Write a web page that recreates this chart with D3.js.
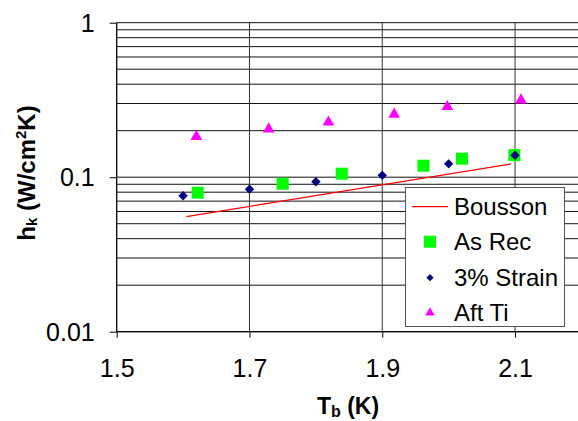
<!DOCTYPE html>
<html>
<head>
<meta charset="utf-8">
<script src="https://cdn.jsdelivr.net/npm/d3@7"></script>
<style>
  body { margin: 0; background: #fff; }
  svg { display: block; }
  text { font-family: "Liberation Sans", Arial, sans-serif; }
</style>
</head>
<body>
<svg id="chart" width="578" height="421"></svg>
<script>
// data
var boussonT = [1.605, 2.094];
var boussonH = [0.0555, 0.122];
var asRecT = [1.622, 1.750, 1.839, 1.962, 2.020, 2.099];
var asRecH = [0.0794, 0.0908, 0.1054, 0.1187, 0.1318, 0.139];
var strainT = [1.6, 1.7, 1.8, 1.9, 2.0, 2.1];
var strainH = [0.0759, 0.0835, 0.0935, 0.1028, 0.122, 0.1386];
var aftT = [1.620, 1.729, 1.819, 1.918, 1.998, 2.109];
var aftH = [0.183, 0.205, 0.227, 0.255, 0.286, 0.316];
var xTicks = [1.5, 1.7, 1.9, 2.1];
var yTicks = [0.01, 0.1, 1];
var legendNames = ["Bousson", "As Rec", "3% Strain", "Aft Ti"];

var plotLeft = 116.7, plotTop = 22.7, plotBottom = 331.7;
var svg = d3.select("#chart");

var x = d3.scaleLinear().domain([1.5, 2.2]).range([plotLeft, plotLeft + 0.7 * 663.9]);
var y = d3.scaleLog().domain([0.01, 1]).range([plotBottom, plotTop]);

// horizontal gridlines (major + minor)
var gridY = [];
for (var d = 0.01; d < 0.5; d *= 10) {
  for (var k = 1; k <= 9; k++) gridY.push(d * k);
}
gridY.push(1);
svg.append("g")
  .selectAll("line")
  .data(gridY)
  .enter()
  .append("line")
  .attr("x1", plotLeft)
  .attr("x2", 578)
  .attr("y1", function(d) { return y(d); })
  .attr("y2", function(d) { return y(d); })
  .attr("stroke", "#111")
  .attr("stroke-width", 1);

// vertical gridlines
svg.append("g")
  .selectAll("line")
  .data(xTicks.slice(1))
  .enter()
  .append("line")
  .attr("x1", function(d) { return x(d); })
  .attr("x2", function(d) { return x(d); })
  .attr("y1", plotTop)
  .attr("y2", plotBottom)
  .attr("stroke", "#333")
  .attr("stroke-width", 1);

// axes
var xAxis = d3.axisBottom(x).tickValues(xTicks).tickSize(6).tickFormat(d3.format(".1f"));
var gx = svg.append("g").attr("transform", "translate(0," + plotBottom + ")").call(xAxis);
gx.select(".domain").attr("d", "M" + plotLeft + ",0H578").attr("stroke", "#000").attr("stroke-width", 1.3);
gx.selectAll(".tick line").attr("stroke", "#000");
gx.selectAll(".tick text")
  .attr("y", 45).attr("dy", null)
  .attr("font-size", 25).attr("fill", "#000");

var yAxis = d3.axisLeft(y).tickValues(yTicks).tickSize(7).tickFormat(function(d) { return d + ""; });
var gy = svg.append("g").attr("transform", "translate(" + plotLeft + ",0)").call(yAxis);
gy.select(".domain").attr("d", "M0," + plotTop + "V" + plotBottom).attr("stroke", "#000").attr("stroke-width", 1.3);
gy.selectAll(".tick line").attr("stroke", "#000");
gy.selectAll(".tick text")
  .attr("x", -22).attr("dy", "0.35em")
  .attr("font-size", 25).attr("fill", "#000");

// Bousson line
var line = d3.line()
  .x(function(d) { return x(d[0]); })
  .y(function(d) { return y(d[1]); });
svg.append("path")
  .datum(d3.zip(boussonT, boussonH))
  .attr("d", line)
  .attr("fill", "none")
  .attr("stroke", "#ff0000")
  .attr("stroke-width", 1.2);

// As Rec squares
svg.append("g")
  .selectAll("rect")
  .data(d3.zip(asRecT, asRecH))
  .enter()
  .append("rect")
  .attr("x", function(d) { return x(d[0]) - 6; })
  .attr("y", function(d) { return y(d[1]) - 6; })
  .attr("width", 12)
  .attr("height", 12)
  .attr("fill", "#00ff00");

// 3% Strain diamonds
var diamond = d3.symbol().type(d3.symbolSquare).size(44);
svg.append("g")
  .selectAll("path")
  .data(d3.zip(strainT, strainH))
  .enter()
  .append("path")
  .attr("d", diamond)
  .attr("transform", function(d) { return "translate(" + x(d[0]) + "," + y(d[1]) + ") rotate(45)"; })
  .attr("fill", "#000080");

// Aft Ti triangles
var tri = d3.symbol().type(d3.symbolTriangle).size(60);
svg.append("g")
  .selectAll("path")
  .data(d3.zip(aftT, aftH))
  .enter()
  .append("path")
  .attr("d", tri)
  .attr("transform", function(d) { return "translate(" + x(d[0]) + "," + y(d[1]) + ")"; })
  .attr("fill", "#ff00ff");

// legend
var lg = svg.append("g");
lg.append("rect")
  .attr("x", 405.5).attr("y", 187.5)
  .attr("width", 159).attr("height", 139)
  .attr("fill", "#fff")
  .attr("stroke", "#555")
  .attr("stroke-width", 1);
var rowY = [206.7, 241.7, 277.7, 312.7];
lg.selectAll("text")
  .data(legendNames)
  .enter()
  .append("text")
  .attr("x", 454)
  .attr("y", function(d, i) { return rowY[i] + 8.5; })
  .attr("font-size", 24)
  .attr("fill", "#000")
  .text(function(d) { return d; });
lg.append("line")
  .attr("x1", 412).attr("x2", 448)
  .attr("y1", rowY[0]).attr("y2", rowY[0])
  .attr("stroke", "#ff0000").attr("stroke-width", 1.2);
lg.append("rect")
  .attr("x", 424).attr("y", rowY[1] - 6)
  .attr("width", 12).attr("height", 12)
  .attr("fill", "#00ff00");
lg.append("path")
  .attr("d", d3.symbol().type(d3.symbolSquare).size(26))
  .attr("transform", "translate(430," + rowY[2] + ") rotate(45)")
  .attr("fill", "#000080");
lg.append("path")
  .attr("d", d3.symbol().type(d3.symbolTriangle).size(40))
  .attr("transform", "translate(430," + rowY[3] + ")")
  .attr("fill", "#ff00ff");

// axis titles
var xt = svg.append("text")
  .attr("x", 348).attr("y", 414)
  .attr("text-anchor", "middle")
  .attr("font-size", 23).attr("font-weight", "bold");
xt.append("tspan").text("T");
xt.append("tspan").attr("font-size", 16).attr("dy", 3).text("b");
xt.append("tspan").attr("dy", -3).text(" (K)");

var yt = svg.append("text")
  .attr("transform", "translate(35,173) rotate(-90)")
  .attr("text-anchor", "middle")
  .attr("font-size", 24).attr("font-weight", "bold");
yt.append("tspan").text("h");
yt.append("tspan").attr("font-size", 15).attr("dy", 2).text("k");
yt.append("tspan").attr("dy", -2).text(" (W/cm");
yt.append("tspan").attr("font-size", 15).attr("dy", -9).text("2");
yt.append("tspan").attr("dy", 9).text("K)");
</script>
</body>
</html>
